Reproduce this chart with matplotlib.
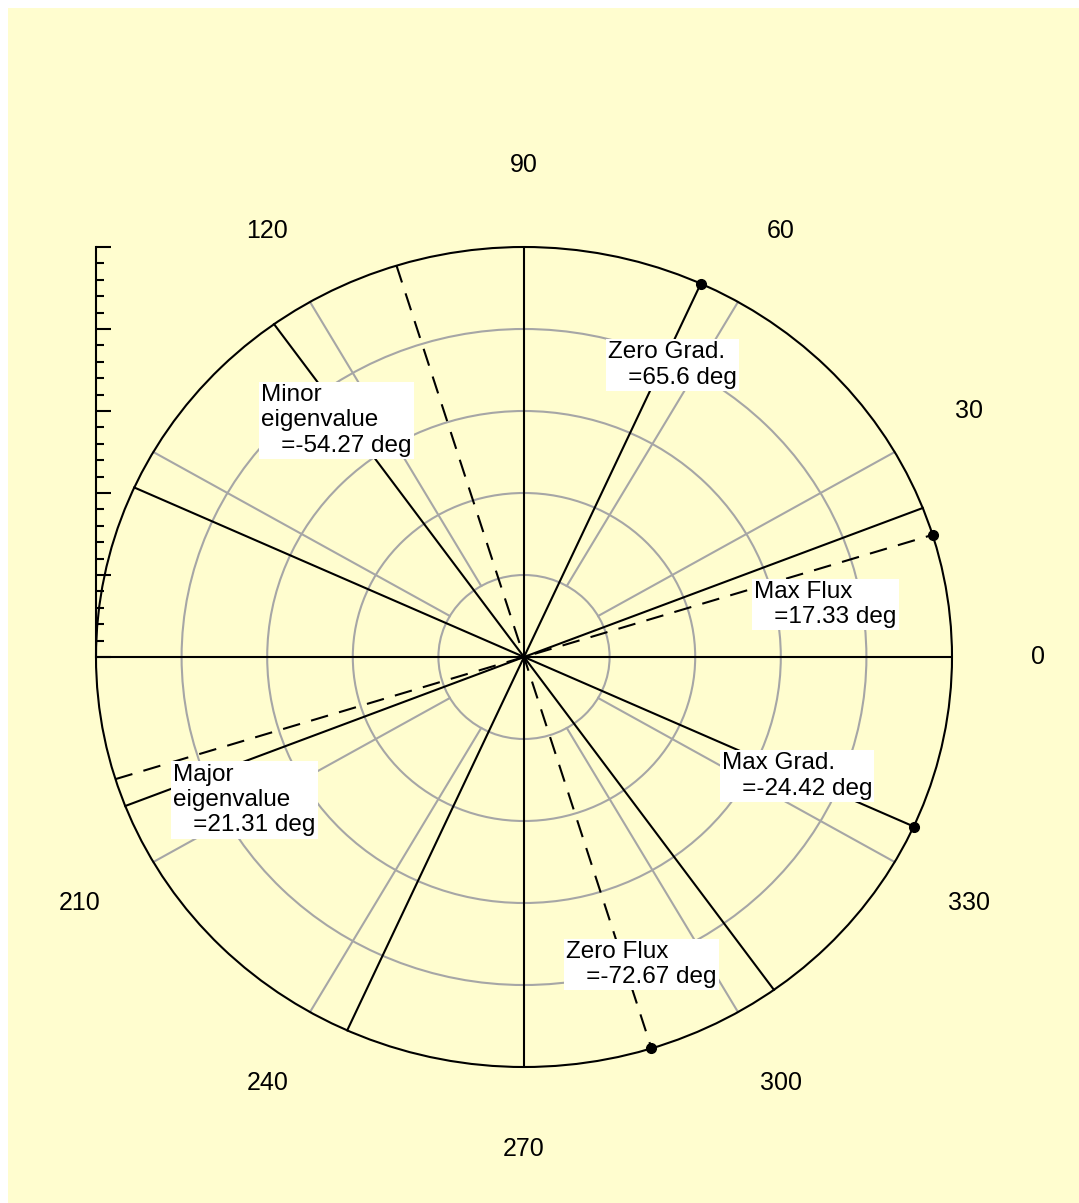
import numpy as np
import matplotlib
matplotlib.use("Agg")
import matplotlib.pyplot as plt
from matplotlib.patches import Rectangle, Ellipse

plt.rcParams['font.family'] = ['Liberation Sans', 'DejaVu Sans']

# Direcciones (grados) y etiquetas
nombres = ["Zero Grad.", "Max Flux", "Max Grad.", "Zero Flux",
           "Major\neigenvalue", "Minor\neigenvalue"]
angulos = [65.6, 17.33, -24.42, -72.67, 21.31, -54.27]
discontinua = [False, True, False, True, False, False]
con_punto = [True, True, True, True, False, False]

# Rotulos angulares que se muestran
rotulos = [0, 30, 60, 90, 120, 210, 240, 270, 300, 330]

# Radio exterior, anillos y radios de la malla
r_max = 5
anillos = [1, 2, 3, 4]
radios_malla = [30, 60, 120, 150, 210, 240, 300, 330]

# Posicion (esquina sup. izq.) de cada cuadro de texto
pos_texto = [(0.98, 3.85), (2.69, 0.93), (2.31, -1.16), (0.49, -3.46),
             (-4.10, -1.30), (-3.07, 3.33)]

W, H = 1079, 1203
fig = plt.figure(figsize=(W / 100, H / 100), dpi=100, facecolor='white')
fig.patches.append(Rectangle((8 / W, 0), 1 - 8 / W, 1 - 8 / H,
                             transform=fig.transFigure, facecolor='#FFFDCF',
                             edgecolor='none', zorder=-10))

# Caja de ejes (en pixeles): centro y semiejes
cx, cy, rx, ry = 524, 657, 428, 410
ax = fig.add_axes([(cx - rx) / W, (H - cy - ry) / H, 2 * rx / W, 2 * ry / H])
ax.set_facecolor('none')
ax.set_xlim(-r_max, r_max)
ax.set_ylim(-r_max, r_max)

gris = '#A6A6A6'
for r in anillos:
    ax.add_patch(Ellipse((0, 0), 2 * r, 2 * r, fill=False, edgecolor=gris,
                         lw=1.5, zorder=1))
for a in radios_malla:
    c, s = np.cos(np.radians(a)), np.sin(np.radians(a))
    ax.plot([anillos[0] * c, r_max * c], [anillos[0] * s, r_max * s],
            color=gris, lw=1.5, zorder=1)

# Ejes principales y circunferencia exterior
ax.plot([-r_max, r_max], [0, 0], color='black', lw=1.5, zorder=2)
ax.plot([0, 0], [-r_max, r_max], color='black', lw=1.5, zorder=2)
ax.add_patch(Ellipse((0, 0), 2 * r_max, 2 * r_max, fill=False,
                     edgecolor='black', lw=1.5, zorder=3, clip_on=False))

for nombre, ang, disc, punto, (tx, ty) in zip(nombres, angulos, discontinua,
                                              con_punto, pos_texto):
    c, s = np.cos(np.radians(ang)), np.sin(np.radians(ang))
    linea, = ax.plot([-r_max * c, r_max * c], [-r_max * s, r_max * s],
                     color='black', lw=1.5, zorder=2)
    if disc:
        linea.set_dashes([8.5, 5.5])
    if punto:
        ax.plot(r_max * c, r_max * s, 'o', color='black', ms=7, zorder=4,
                clip_on=False)
    ax.text(tx, ty, f"{nombre}\n   ={ang:g} deg", ha='left', va='top',
            fontsize=17.5, linespacing=1.2, zorder=5,
            bbox=dict(facecolor='white', edgecolor='none', pad=1.5))

for a in rotulos:
    ax.text(6 * np.cos(np.radians(a)), 6 * np.sin(np.radians(a)), str(a),
            ha='center', va='center', fontsize=18, clip_on=False)

# Regla radial a la izquierda
for lado in ['top', 'right', 'bottom']:
    ax.spines[lado].set_visible(False)
ax.spines['left'].set_bounds(0, r_max)
ax.spines['left'].set_linewidth(1.5)
ax.set_yticks(np.arange(0, r_max + 0.01, 1))
ax.set_yticks(np.arange(0, r_max + 0.01, 0.2), minor=True)
ax.tick_params(axis='y', which='major', direction='in', length=11, width=1.5,
               labelleft=False)
ax.tick_params(axis='y', which='minor', direction='in', length=5.5, width=1.5)
ax.set_xticks([])

fig.savefig('out.png', dpi=100, facecolor=fig.get_facecolor())
